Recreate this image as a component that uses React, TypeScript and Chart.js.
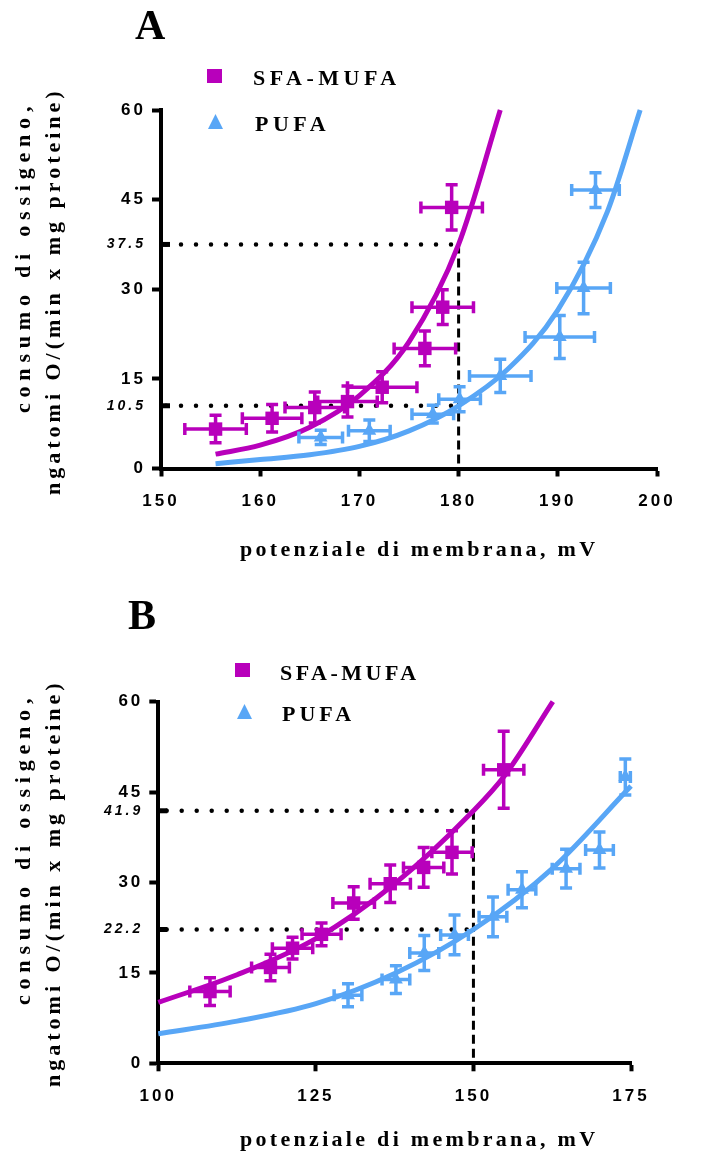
import React, { useEffect, useRef } from 'react';
import { Chart, registerables } from 'chart.js';
Chart.register(...registerables);

const MAGENTA = '#B800BB';
const BLUE = '#58A6F6';
const SERIES = ['SFA-MUFA', 'PUFA'];
const X_TITLE = 'potenziale di membrana, mV';
const Y_TITLE = ['consumo di ossigeno,', 'ngatomi O/(min x mg proteine)'];

// ---------- Panel A ----------
const aSfaX = [155.5, 161.2, 165.5, 168.8, 172.3, 176.6, 178.4, 179.3];
const aSfaY = [6.6, 8.4, 10.2, 11.2, 13.6, 20.1, 27.0, 43.7];
const aSfaXErr = [3.1, 3.0, 3.0, 3.0, 3.5, 3.1, 3.1, 3.1];
const aSfaYErr = [2.3, 2.3, 2.6, 2.6, 2.6, 2.9, 2.9, 3.8];
const aPufaX = [166.1, 171.0, 177.4, 180.1, 184.2, 190.2, 192.6, 193.8];
const aPufaY = [5.2, 6.3, 9.1, 11.6, 15.5, 22.0, 30.2, 46.6];
const aPufaXErr = [2.2, 2.1, 2.1, 2.1, 3.1, 3.5, 2.7, 2.4];
const aPufaYErr = [1.2, 1.8, 1.5, 2.1, 2.8, 3.6, 4.3, 2.9];
const aSfaFitX = [155.5, 160, 165, 170, 175, 180, 184.2];
const aSfaFitY = [2.4, 3.9, 6.9, 12.2, 21.2, 37.5, 60];
const aPufaFitX = [155.5, 160, 165, 170, 175, 180, 185, 190, 195, 198.3];
const aPufaFitY = [0.8, 1.5, 2.3, 3.7, 6.3, 10.5, 16.7, 26.5, 43, 60];
const aRefX = 180;
const aRefY = [37.5, 10.5];
const aXTicks = [150, 160, 170, 180, 190, 200];
const aYTicks = [0, 15, 30, 45, 60];

// ---------- Panel B ----------
const bSfaX = [108.2, 117.8, 121.3, 125.9, 131.0, 136.8, 142.1, 146.6, 154.8];
const bSfaY = [11.9, 15.9, 19.1, 21.4, 26.6, 29.8, 32.5, 35.0, 48.7];
const bSfaXErr = [3.2, 3.0, 3.2, 3.1, 3.3, 3.2, 3.2, 3.2, 3.2];
const bSfaYErr = [2.3, 2.2, 1.8, 1.9, 2.7, 3.1, 3.3, 3.6, 6.4];
const bPufaX = [130.1, 137.7, 142.2, 147.0, 153.1, 157.7, 164.7, 170.0, 174.1];
const bPufaY = [11.3, 13.9, 18.3, 21.3, 24.3, 28.8, 32.3, 35.4, 47.5];
const bPufaXErr = [2.2, 2.2, 2.3, 2.2, 2.2, 2.2, 2.2, 2.2, 0.8];
const bPufaYErr = [1.9, 2.3, 2.9, 3.3, 3.3, 3.0, 3.2, 3.0, 3.0];
const bSfaFitX = [100, 112.5, 125, 137.5, 150, 155, 162.6];
const bSfaFitY = [10.1, 14.7, 20.7, 29.8, 41.9, 47.8, 60];
const bPufaFitX = [100, 112.5, 125, 137.5, 150, 162.5, 175];
const bPufaFitY = [4.9, 7.0, 9.9, 14.9, 22.2, 32.3, 46];
const bRefX = 150;
const bRefY = [41.9, 22.2];
const bXTicks = [100, 125, 150, 175];
const bYTicks = [0, 15, 30, 45, 60];

const SANS = '"Liberation Sans", Arial, sans-serif';
const SERIF = '"Liberation Serif", "Times New Roman", serif';

const zip = (xs: number[], ys: number[]) => xs.map((x, i) => ({ x, y: ys[i] }));

const errorBarPlugin = {
  id: 'errorBars',
  beforeDatasetDraw(chart: any, args: any) {
    const ds = chart.data.datasets[args.index];
    if (!ds.errX) return;
    const xs = chart.scales.x;
    const ys = chart.scales.y;
    const ctx = chart.ctx;
    ctx.save();
    ctx.strokeStyle = ds.borderColor;
    ctx.lineWidth = 3.5;
    const c = 6;
    ds.data.forEach((p: any, i: number) => {
      const cx = xs.getPixelForValue(p.x);
      const cy = ys.getPixelForValue(p.y);
      const x1 = xs.getPixelForValue(p.x - ds.errX[i]);
      const x2 = xs.getPixelForValue(p.x + ds.errX[i]);
      const y1 = ys.getPixelForValue(p.y - ds.errY[i]);
      const y2 = ys.getPixelForValue(p.y + ds.errY[i]);
      ctx.beginPath();
      ctx.moveTo(x1, cy); ctx.lineTo(x2, cy);
      ctx.moveTo(x1, cy - c); ctx.lineTo(x1, cy + c);
      ctx.moveTo(x2, cy - c); ctx.lineTo(x2, cy + c);
      ctx.moveTo(cx, y1); ctx.lineTo(cx, y2);
      ctx.moveTo(cx - c, y1); ctx.lineTo(cx + c, y1);
      ctx.moveTo(cx - c, y2); ctx.lineTo(cx + c, y2);
      ctx.stroke();
    });
    ctx.restore();
  },
  afterDatasetsDraw(chart: any) {
    const ctx = chart.ctx;
    chart.data.datasets.forEach((ds: any) => {
      if (!ds.startMark) return;
      const p = ds.data[0];
      const px = chart.scales.x.getPixelForValue(p.x);
      const py = chart.scales.y.getPixelForValue(p.y);
      ctx.save();
      ctx.strokeStyle = '#000';
      ctx.lineWidth = 5;
      ctx.beginPath();
      ctx.moveTo(px, py);
      ctx.lineTo(px + 9, py);
      ctx.stroke();
      ctx.restore();
    });
  },
};

const spacingPlugin = {
  id: 'spacing',
  beforeDraw(chart: any) { chart.ctx.letterSpacing = '3px'; },
  afterDraw(chart: any) { chart.ctx.letterSpacing = '0px'; },
};

interface PanelData {
  sfa: { x: number[]; y: number[]; ex: number[]; ey: number[] };
  pufa: { x: number[]; y: number[]; ex: number[]; ey: number[] };
  sfaFit: { x: number[]; y: number[] };
  pufaFit: { x: number[]; y: number[] };
  refX: number;
  refY: number[];
  xTicks: number[];
  yTicks: number[];
  dashOffset: number;
  padding: { left: number; right: number; top: number; bottom: number };
}

function buildConfig(p: PanelData): any {
  const xMin = p.xTicks[0];
  const xMax = p.xTicks[p.xTicks.length - 1];
  const yMin = p.yTicks[0];
  const yMax = p.yTicks[p.yTicks.length - 1];
  const isRef = (v: any) => p.refY.includes(v);
  const boldFont = { family: SANS, size: 17, weight: 'bold' };
  const italFont = { family: SANS, size: 14, weight: 'bold', style: 'italic' };
  return {
    type: 'line',
    data: {
      datasets: [
        {
          label: SERIES[0], data: zip(p.sfa.x, p.sfa.y), showLine: false,
          pointStyle: 'rect', pointRadius: 9.5, pointBorderWidth: 0,
          backgroundColor: MAGENTA, borderColor: MAGENTA, pointBackgroundColor: MAGENTA,
          errX: p.sfa.ex, errY: p.sfa.ey, clip: false,
        },
        {
          label: SERIES[1], data: zip(p.pufa.x, p.pufa.y), showLine: false,
          pointStyle: 'triangle', pointRadius: 8, pointBorderWidth: 0,
          backgroundColor: BLUE, borderColor: BLUE, pointBackgroundColor: BLUE,
          errX: p.pufa.ex, errY: p.pufa.ey, clip: false,
        },
        {
          label: SERIES[0] + ' fit', data: zip(p.sfaFit.x, p.sfaFit.y), showLine: true,
          borderColor: MAGENTA, borderWidth: 5, pointRadius: 0, fill: false,
          cubicInterpolationMode: 'monotone', clip: false,
        },
        {
          label: SERIES[1] + ' fit', data: zip(p.pufaFit.x, p.pufaFit.y), showLine: true,
          borderColor: BLUE, borderWidth: 5, pointRadius: 0, fill: false,
          cubicInterpolationMode: 'monotone', clip: false,
        },
        ...p.refY.map((v) => ({
          label: 'ref ' + v, data: [{ x: xMin, y: v }, { x: p.refX, y: v }], showLine: true,
          borderColor: '#000', borderWidth: 4.5, borderDash: [0, 15], borderDashOffset: p.dashOffset,
          borderCapStyle: 'round', pointRadius: 0, fill: false, startMark: true, clip: false,
        })),
        {
          label: 'ref x', data: [{ x: p.refX, y: Math.max(...p.refY) }, { x: p.refX, y: yMin }], showLine: true,
          borderColor: '#000', borderWidth: 3, borderDash: [9, 5], pointRadius: 0, fill: false, clip: false,
        },
      ],
    },
    options: {
      responsive: false,
      animation: false,
      devicePixelRatio: 1,
      events: [],
      layout: { padding: p.padding },
      plugins: { legend: { display: false }, tooltip: { enabled: false }, title: { display: false } },
      scales: {
        x: {
          type: 'linear', min: xMin, max: xMax,
          afterBuildTicks: (s: any) => { s.ticks = p.xTicks.map((v) => ({ value: v })); },
          afterFit: (s: any) => { s.height = 80; },
          ticks: { font: boldFont, color: '#000', padding: 15, maxRotation: 0, autoSkip: false, callback: (v: any) => String(v) },
          grid: { drawOnChartArea: false, drawTicks: true, tickLength: 8, tickWidth: 4, tickColor: '#000' },
          border: { display: true, color: '#000', width: 4 },
        },
        y: {
          type: 'linear', min: yMin, max: yMax,
          afterBuildTicks: (s: any) => {
            s.ticks = [...p.yTicks, ...p.refY].sort((a, b) => a - b).map((v) => ({ value: v }));
          },
          afterFit: (s: any) => { s.width = 100; },
          ticks: {
            font: (c: any) => (c.tick && isRef(c.tick.value) ? italFont : boldFont),
            color: '#000', padding: 6, autoSkip: false, callback: (v: any) => String(v),
          },
          grid: {
            drawOnChartArea: false, drawTicks: true, tickLength: 9, tickWidth: 4,
            tickColor: (c: any) => (c.tick && isRef(c.tick.value) ? 'rgba(0,0,0,0)' : '#000'),
          },
          border: { display: true, color: '#000', width: 4 },
        },
      },
    },
    plugins: [errorBarPlugin, spacingPlugin],
  };
}

const panelA: PanelData = {
  sfa: { x: aSfaX, y: aSfaY, ex: aSfaXErr, ey: aSfaYErr },
  pufa: { x: aPufaX, y: aPufaY, ex: aPufaXErr, ey: aPufaYErr },
  sfaFit: { x: aSfaFitX, y: aSfaFitY },
  pufaFit: { x: aPufaFitX, y: aPufaFitY },
  refX: aRefX, refY: aRefY, xTicks: aXTicks, yTicks: aYTicks,
  dashOffset: 10,
  padding: { left: 61, right: 48, top: 110, bottom: 31.5 },
};

const panelB: PanelData = {
  sfa: { x: bSfaX, y: bSfaY, ex: bSfaXErr, ey: bSfaYErr },
  pufa: { x: bPufaX, y: bPufaY, ex: bPufaXErr, ey: bPufaYErr },
  sfaFit: { x: bSfaFitX, y: bSfaFitY },
  pufaFit: { x: bPufaFitX, y: bPufaFitY },
  refX: bRefX, refY: bRefY, xTicks: bXTicks, yTicks: bYTicks,
  dashOffset: 6.6,
  padding: { left: 58.3, right: 74, top: 121.7, bottom: 9.7 },
};

function ChartCanvas({ panel, top, height }: { panel: PanelData; top: number; height: number }) {
  const ref = useRef<HTMLCanvasElement | null>(null);
  useEffect(() => {
    if (!ref.current) return;
    const chart = new Chart(ref.current, buildConfig(panel));
    return () => chart.destroy();
  }, [panel]);
  return (
    <canvas
      ref={ref}
      width={705}
      height={height}
      style={{ position: 'absolute', left: 0, top, width: 705, height }}
    />
  );
}

function Txt({ text, left, top, size, ls, rotate, family }: any) {
  return (
    <div
      style={{
        position: 'absolute', left, top, fontFamily: family || SERIF, fontWeight: 'bold',
        fontSize: size, lineHeight: size + 'px', letterSpacing: ls, whiteSpace: 'nowrap', color: '#000',
        transform: rotate ? 'rotate(-90deg)' : undefined, transformOrigin: '0 0',
      }}
    >
      {text}
    </div>
  );
}

function Square({ left, top }: { left: number; top: number }) {
  return <div style={{ position: 'absolute', left, top, width: 15, height: 14, background: MAGENTA }} />;
}

function Tri({ left, top }: { left: number; top: number }) {
  return (
    <div
      style={{
        position: 'absolute', left, top, width: 15, height: 15, background: BLUE,
        clipPath: 'polygon(50% 0, 100% 100%, 0 100%)',
      }}
    />
  );
}

export default function App() {
  return (
    <div style={{ position: 'absolute', left: 0, top: 0, width: 705, height: 1153, background: '#fff', overflow: 'hidden' }}>
      <ChartCanvas panel={panelA} top={0} height={580} />
      <ChartCanvas panel={panelB} top={580} height={573} />

      {/* Panel A texts */}
      <Txt text="A" left={135} top={3.8} size={42} ls={0} />
      <Square left={207} top={69} />
      <Txt text={SERIES[0]} left={253} top={66.6} size={22} ls={4.5} />
      <Tri left={208} top={114} />
      <Txt text={SERIES[1]} left={255} top={113.1} size={22} ls={4.5} />
      <Txt text={X_TITLE} left={240} top={538.1} size={22} ls={3.3} />
      <Txt text={Y_TITLE[0]} left={12} top={413} size={22} ls={5.8} rotate />
      <Txt text={Y_TITLE[1]} left={42} top={495} size={22} ls={4} rotate />

      {/* Panel B texts */}
      <Txt text="B" left={128} top={593.8} size={42} ls={0} />
      <Square left={235} top={663} />
      <Txt text={SERIES[0]} left={280} top={661.6} size={22} ls={3.5} />
      <Tri left={237} top={704} />
      <Txt text={SERIES[1]} left={282} top={703.1} size={22} ls={4} />
      <Txt text={X_TITLE} left={240} top={1127.6} size={22} ls={3.3} />
      <Txt text={Y_TITLE[0]} left={12} top={1005} size={22} ls={5.8} rotate />
      <Txt text={Y_TITLE[1]} left={42} top={1087} size={22} ls={4} rotate />
    </div>
  );
}
